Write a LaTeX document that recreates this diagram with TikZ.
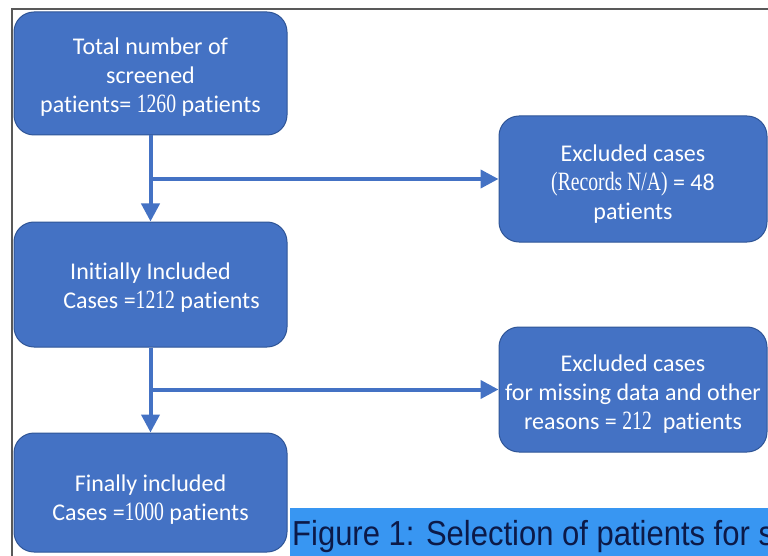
\documentclass[tikz,border=0pt]{standalone}
\usepackage{fontspec}
\usepackage{graphicx}
\setmainfont{Carlito}[Ligatures=CommonOff]
\newfontfamily\numfont{Liberation Serif}
\newfontfamily\capfont{Liberation Sans}
\usetikzlibrary{positioning, arrows.meta}
\definecolor{boxblue}{RGB}{68,114,196}
\definecolor{boxline}{RGB}{47,85,151}
\definecolor{bannerblue}{RGB}{56,150,242}
\definecolor{captext}{RGB}{12,26,72}
\newcommand{\numtxt}[1]{\scalebox{0.82}[1.1]{\numfont #1}}
\newcommand{\push}[1]{\rule{0pt}{#1}}

\begin{document}
\begin{tikzpicture}[x=1pt, y=-1pt,
    stage/.style={draw=boxline, line width=1pt, fill=boxblue, rounded corners=20pt, text=white, align=center, font=\fontsize{24}{29}\selectfont, inner sep=2pt},
    flow/.style={draw=boxblue, line width=4pt, -{Triangle[width=18pt, length=18pt]}},
]

\useasboundingbox (0,0) rectangle (768,556);
\clip (0,0) rectangle (768,556);
\fill[white] (0,0) rectangle (768,556);

\draw[gray!70!black, line width=1.5pt] (12,556) -- (12,9) -- (768,9);

\node[stage, minimum width=273pt, minimum height=123pt] (screened) at (150.5,73.5) {\push{23pt}Total number of\\screened\\patients= \numtxt{1260} patients};
\node[stage, minimum width=273pt, minimum height=125pt] (initial) at (150.5,284.5) {\push{23pt}Initially Included\\\hspace*{22pt}Cases =\numtxt{1212} patients};
\node[stage, minimum width=273pt, minimum height=119pt] (final) at (150.5,492.5) {\push{31pt}Finally included\\Cases =\numtxt{1000} patients};

\node[stage, minimum width=268pt, minimum height=126pt] (exclA) at (633,179) {\push{27pt}Excluded cases\\\numtxt{(Records N/A)} = 48\hspace*{68pt}\\patients};
\node[stage, minimum width=268pt, minimum height=125pt] (exclB) at (633,389.5) {\push{25pt}Excluded cases\\for missing data and other\\reasons = \numtxt{212}\ \ patients};

\draw[flow] (screened) -- (initial);
\draw[flow] (initial) -- (final);
\foreach \src/\dst in {screened/exclA, initial/exclB} {
    \draw[flow] (\src.south |- \dst.west) -- (\dst.west);
}

\node[fill=bannerblue, minimum width=478pt, minimum height=48pt, inner sep=0pt, anchor=north west] (banner) at (290,508) {};
\node[anchor=base west, text=captext, font=\capfont\fontsize{31}{31}\selectfont, inner sep=0pt] (caption) at (292,545) {\scalebox{1}[1.12]{Figure 1: Selection of patients for s}};

\end{tikzpicture}
\end{document}
